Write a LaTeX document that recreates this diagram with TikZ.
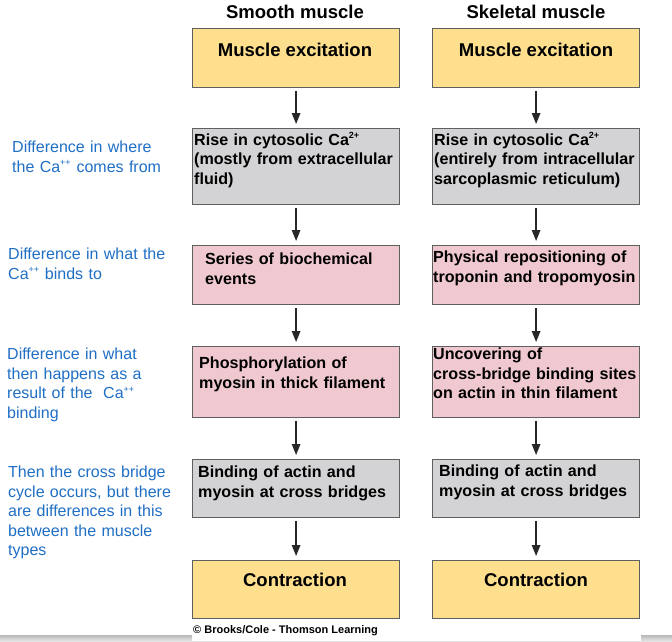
\documentclass[tikz,border=0pt]{standalone}
\usepackage{fontspec}
\setmainfont{Liberation Sans}
\usetikzlibrary{arrows.meta}
\definecolor{excite}{RGB}{253,223,142}
\definecolor{calcium}{RGB}{211,211,213}
\definecolor{binding}{RGB}{240,201,208}
\definecolor{frame}{RGB}{95,95,95}
\definecolor{notecol}{RGB}{31,111,197}
\definecolor{arrowcol}{RGB}{40,40,40}
\newcommand{\ionsup}[1]{\textsuperscript{\fontsize{9}{9}\selectfont #1}}
\tikzset{every picture/.style={>={Triangle[length=11pt,width=8.5pt]}}}
\tikzset{
  stage/.style={draw=frame, line width=1.2pt, anchor=north west, minimum width=207pt, inner sep=0pt},
  boxtext/.style={anchor=base west, align=left, text width=210pt, inner sep=0pt, font=\fontsize{16.1}{19.5}\selectfont\bfseries},
  title/.style={inner sep=0pt, font=\fontsize{18.5}{22}\selectfont\bfseries},
  note/.style={anchor=base west, align=left, text width=185pt, inner sep=0pt, text=notecol, font=\fontsize{16}{19.6}\selectfont},
  flow/.style={->, line width=1.4pt, draw=arrowcol, shorten <=3pt, shorten >=4pt}
}

\begin{document}
\begin{tikzpicture}[x=1pt,y=-1pt]
  \useasboundingbox[fill=white] (0,0) rectangle (672,642);
  % page edge at the bottom
  \shade[top color=gray!55, bottom color=gray!15] (0,635) rectangle (672,642);
  \fill[white] (192,621) rectangle (641,641);

  % column heads
  \node[title] (smhead) at (295,12) {Smooth muscle};
  \node[title] (skhead) at (536,12) {Skeletal muscle};

  % smooth muscle column
  \node[stage, fill=excite,  minimum height=59pt] (sm1) at (192,28) {};
  \node[stage, fill=calcium, minimum height=76pt] (sm2) at (192,128) {};
  \node[stage, fill=binding, minimum height=59pt] (sm3) at (192,245) {};
  \node[stage, fill=binding, minimum height=71pt] (sm4) at (192,346) {};
  \node[stage, fill=calcium, minimum height=58pt] (sm5) at (192,459) {};
  \node[stage, fill=excite,  minimum height=58pt] (sm6) at (192,560) {};

  % skeletal muscle column
  \node[stage, fill=excite,  minimum height=59pt] (sk1) at (432,28) {};
  \node[stage, fill=calcium, minimum height=76pt] (sk2) at (432,128) {};
  \node[stage, fill=binding, minimum height=59pt] (sk3) at (432,245) {};
  \node[stage, fill=binding, minimum height=71pt] (sk4) at (432,346) {};
  \node[stage, fill=calcium, minimum height=58pt] (sk5) at (432,459) {};
  \node[stage, fill=excite,  minimum height=58pt] (sk6) at (432,560) {};

  % box texts
  \node[title] (sm1t) at (295,50) {Muscle excitation};
  \node[title] (sk1t) at (536,50) {Muscle excitation};
  \node[boxtext] (sm2t) at (194,145) {Rise in cytosolic Ca\ionsup{2+}\\(mostly from extracellular\\fluid)};
  \node[boxtext] (sk2t) at (434,145) {Rise in cytosolic Ca\ionsup{2+}\\(entirely from intracellular\\sarcoplasmic reticulum)};
  \node[boxtext] (sm3t) at (205,264.5) {Series of biochemical\\events};
  \node[boxtext] (sk3t) at (433,262.5) {Physical repositioning of\\troponin and tropomyosin};
  \node[boxtext] (sm4t) at (199,368.5) {Phosphorylation of\\myosin in thick filament};
  \node[boxtext] (sk4t) at (433,359.5) {Uncovering of\\cross-bridge binding sites\\on actin in thin filament};
  \node[boxtext] (sm5t) at (198,477.5) {Binding of actin and\\myosin at cross bridges};
  \node[boxtext] (sk5t) at (439,476.5) {Binding of actin and\\myosin at cross bridges};
  \node[title] (sm6t) at (295,580) {Contraction};
  \node[title] (sk6t) at (536,580) {Contraction};

  % arrows
  \foreach \a/\b in {1/2,2/3,3/4,4/5,5/6} {
    \draw[flow] (sm\a) -- (sm\b);
    \draw[flow] (sk\a) -- (sk\b);
  }

  % notes on the left
  \node[note] (n1) at (12,152.5) {Difference in where\\the Ca\ionsup{++} comes from};
  \node[note] (n2) at (8,259.5) {Difference in what the\\Ca\ionsup{++} binds to};
  \node[note] (n3) at (7,359.5) {Difference in what\\then happens as a\\result of the~ Ca\ionsup{++}\\binding};
  \node[note] (n4) at (8,477.5) {Then the cross bridge\\cycle occurs, but there\\are differences in this\\between the muscle\\types};

  \node[anchor=west, inner sep=0pt, font=\fontsize{11}{13}\selectfont\bfseries] (credit) at (193,631) {© Brooks/Cole - Thomson Learning};
\end{tikzpicture}
\end{document}
